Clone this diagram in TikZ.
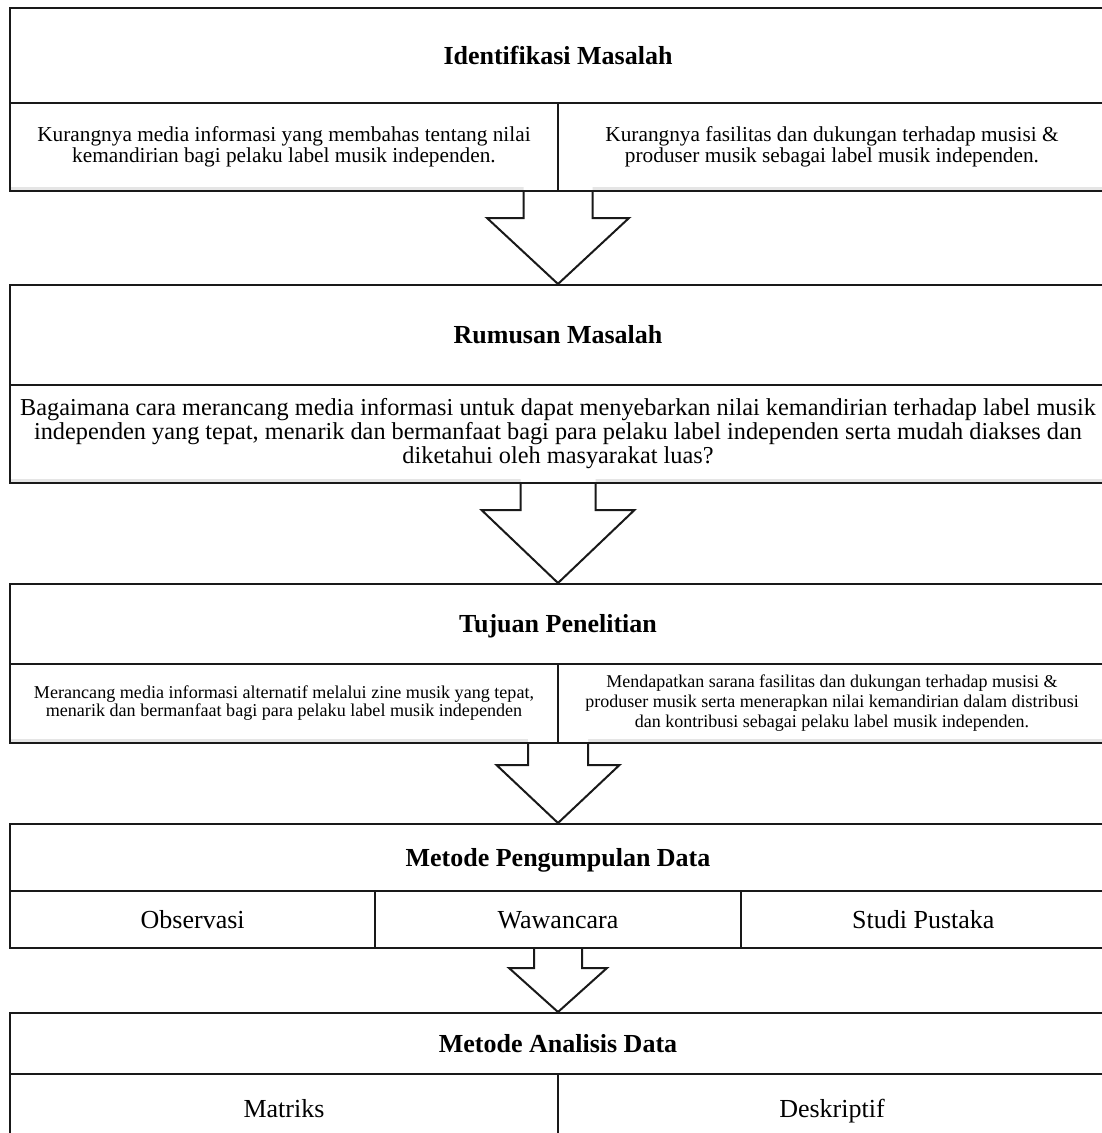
\documentclass[tikz,border=0pt]{standalone}
\usepackage{fontspec}
\setmainfont{Liberation Serif}
\usetikzlibrary{calc}
\usetikzlibrary{backgrounds}

% block arrow: top centre, tip, half shaft, head start, half head
\newcommand{\blockarrow}[5]{%
    \fill[white] ($(#1)+(-#3,-6)$) -- ($(#1)+(-#3,#4)$) -- ($(#1)+(-#5,#4)$) -- (#2) -- ($(#1)+(#5,#4)$) -- ($(#1)+(#3,#4)$) -- ($(#1)+(#3,-6)$) -- cycle;
    \draw[arrowline] ($(#1)+(-#3,0)$) -- ($(#1)+(-#3,#4)$) -- ($(#1)+(-#5,#4)$) -- (#2) -- ($(#1)+(#5,#4)$) -- ($(#1)+(#3,#4)$) -- ($(#1)+(#3,0)$);%
}

\begin{document}
\begin{tikzpicture}[
        x=1pt, y=-1pt,
        every node/.style={draw=black!90, line width=2pt, inner sep=0pt, align=center},
        header/.style={minimum width=1096pt, text height=17pt, text depth=0pt, font=\fontsize{26}{30}\selectfont\bfseries},
        half/.style={minimum width=548pt},
        third/.style={minimum width=365.33pt, minimum height=57pt, text height=17pt, text depth=0pt, font=\fontsize{26}{30}\selectfont},
        single/.style={half, minimum height=70pt, text height=17pt, text depth=0pt, font=\fontsize{26}{30}\selectfont},
        arrowline/.style={draw=black!90, line width=2pt},
        shadeline/.style={draw=black!10, line width=3pt},
    ]
        \useasboundingbox (0,0) rectangle (1102,1133);
        \clip (0,0) rectangle (1102,1133);

        % Identifikasi Masalah
        \node[header, minimum height=95pt] (idn) at (558,55.5) {Identifikasi Masalah};
        \node[half, minimum height=88pt, font=\fontsize{21.3}{21}\selectfont] (idnL) at (284,147)
            {Kurangnya media informasi yang membahas tentang nilai\\kemandirian bagi pelaku label musik independen.};
        \node[half, minimum height=88pt, font=\fontsize{21.3}{21}\selectfont] (idnR) at (832,147)
            {Kurangnya fasilitas dan dukungan terhadap musisi \&\\produser musik sebagai label musik independen.};

        % Rumusan Masalah
        \node[header, minimum height=100pt] (rum) at (558,335) {Rumusan Masalah};
        \node[minimum width=1096pt, minimum height=98pt, font=\fontsize{24.3}{24}\selectfont] (rumT) at (558,434)
            {Bagaimana cara merancang media informasi untuk dapat menyebarkan nilai kemandirian terhadap label musik\\independen yang tepat, menarik dan bermanfaat bagi para pelaku label independen serta mudah diakses dan\\diketahui oleh masyarakat luas?};

        % Tujuan Penelitian
        \node[header, minimum height=80pt] (tuj) at (558,624) {Tujuan Penelitian};
        \node[half, minimum height=79pt, font=\fontsize{18.1}{18}\selectfont] (tujL) at (284,703.5)
            {Merancang media informasi alternatif melalui zine musik yang tepat,\\menarik dan bermanfaat bagi para pelaku label musik independen};
        \node[half, minimum height=79pt, font=\fontsize{18}{20}\selectfont] (tujR) at (832,703.5)
            {Mendapatkan sarana fasilitas dan dukungan terhadap musisi \&\\produser musik serta menerapkan nilai kemandirian dalam distribusi\\dan kontribusi sebagai pelaku label musik independen.};

        % Metode Pengumpulan Data
        \node[header, minimum height=67pt] (pgd) at (558,857.5) {Metode Pengumpulan Data};
        \node[third] (pgdA) at (192.67,919.5) {Observasi};
        \node[third] (pgdB) at (558,919.5) {Wawancara};
        \node[third] (pgdC) at (923.33,919.5) {Studi Pustaka};

        % Metode Analisis Data
        \node[header, minimum height=61pt] (anl) at (558,1043.5) {Metode Analisis Data};
        \node[single] (anlA) at (284,1109) {Matriks};
        \node[single] (anlB) at (832,1109) {Deskriptif};

        % Arrow tops
        \coordinate (a1) at (idn.south |- idnL.south);
        \coordinate (a2) at (rumT.south);
        \coordinate (a3) at (tuj.south |- tujL.south);
        \coordinate (a4) at (pgdB.south);

        \begin{scope}[on background layer]
            % light shadow under the rows
            \draw[shadeline] ($(idnL.south west)+(2,-3.5)$) -- ($(idnR.south east)+(-2,-3.5)$);
            \draw[shadeline] ($(rumT.south west)+(2,-3.5)$) -- ($(rumT.south east)+(-2,-3.5)$);
            \draw[shadeline] ($(tujL.south west)+(2,-3.5)$) -- ($(tujR.south east)+(-2,-3.5)$);

            % Arrows
            \blockarrow{a1}{rum.north}{34.5}{26}{71}
            \blockarrow{a2}{tuj.north}{37.5}{26}{76.5}
            \blockarrow{a3}{pgd.north}{30}{21}{61.5}
            \blockarrow{a4}{anl.north}{24}{19}{49}
        \end{scope}

    \end{tikzpicture}
\end{document}
